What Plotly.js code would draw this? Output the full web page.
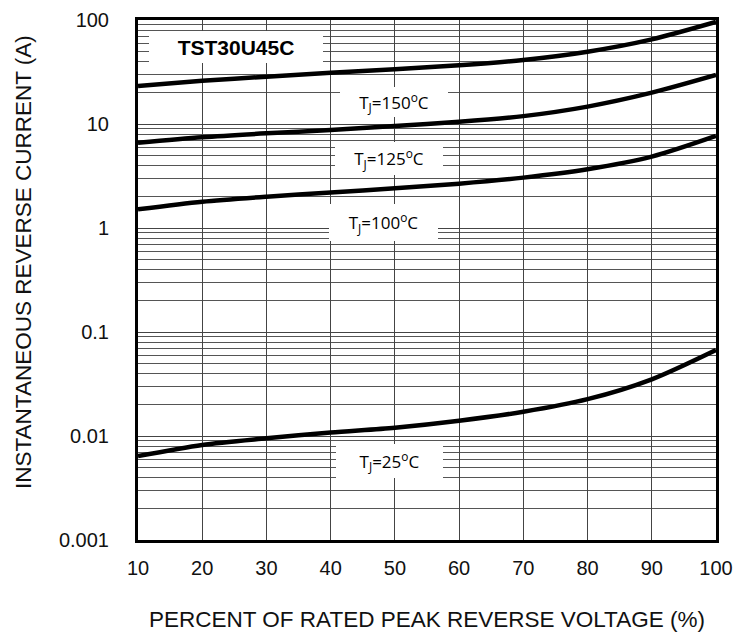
<!DOCTYPE html>
<html>
<head>
<meta charset="utf-8">
<script src="https://cdn.plot.ly/plotly-3.0.1.min.js"></script>
<style>html,body{margin:0;padding:0;background:#fff;}</style>
</head>
<body>
<div id="chart" style="width:741px;height:638px;"></div>
<script>
const voltagePct = [10, 20, 30, 40, 50, 60, 70, 80, 90, 100];
const current150 = [23.2, 26, 28.5, 31.1, 33.6, 36.7, 41.3, 49.6, 65.2, 96];
const current125 = [6.6, 7.45, 8.13, 8.75, 9.57, 10.5, 11.9, 14.7, 20, 29.6];
const current100 = [1.51, 1.79, 2.0, 2.19, 2.41, 2.67, 3.05, 3.67, 4.85, 7.67];
const current25 = [0.0064, 0.0082, 0.0095, 0.0108, 0.012, 0.014, 0.0171, 0.0226, 0.0351, 0.0671];
const seriesNames = ['T<sub>J</sub>=150<sup>o</sup>C', 'T<sub>J</sub>=125<sup>o</sup>C', 'T<sub>J</sub>=100<sup>o</sup>C', 'T<sub>J</sub>=25<sup>o</sup>C'];
const xTickVals = [10, 20, 30, 40, 50, 60, 70, 80, 90, 100];
const yTickVals = [0.001, 0.01, 0.1, 1, 10, 100];
const yTickText = ['0.001', '0.01', '0.1', '1', '10', '100'];
const partName = 'TST30U45C';

const seriesData = [current150, current125, current100, current25];
const traces = seriesData.map((ys, i) => ({
  x: voltagePct, y: ys, name: seriesNames[i], type: 'scatter', mode: 'lines',
  line: {color: '#000', width: 4.5, shape: 'spline', smoothing: 0.8},
  hoverinfo: 'skip'
}));

// plot area in pixels: left 138, right 716, top 20, bottom 540
const L = 138, R = 716, T = 20, B = 540;
const px = v => (v - L) / (R - L);
const py = v => (B - v) / (B - T);

const labelFont = {family: 'Open Sans, Noto Sans, sans-serif', size: 17, color: '#000'};
function boxLabel(text, x0, x1, y0, y1, font) {
  return {
    text: text, xref: 'paper', yref: 'paper',
    x: px((x0 + x1) / 2), y: py((y0 + y1) / 2),
    xanchor: 'center', yanchor: 'middle', showarrow: false,
    width: x1 - x0, height: y1 - y0, bgcolor: '#fff', borderpad: 0, borderwidth: 0,
    font: font, align: 'center', valign: 'middle'
  };
}

const annotations = [
  boxLabel('<b>' + partName + '</b>', 149, 323, 31, 63, {family: 'Liberation Sans, Arial, sans-serif', size: 21, color: '#000'}),
  boxLabel(seriesNames[0], 340, 448, 87, 117, labelFont),
  boxLabel(seriesNames[1], 335, 443, 142, 175, labelFont),
  boxLabel(seriesNames[2], 329, 438, 204, 241, labelFont),
  boxLabel(seriesNames[3], 336, 443, 444, 478, labelFont),
  {
    text: 'INSTANTANEOUS REVERSE CURRENT (A)', xref: 'paper', yref: 'paper',
    x: px(23), y: py(262), xanchor: 'center', yanchor: 'middle', showarrow: false,
    textangle: -90, font: {family: 'Liberation Sans, Arial, sans-serif', size: 22.5, color: '#111'}
  }
];

const layout = {
  width: 741, height: 638,
  margin: {l: L, r: 741 - R, t: T, b: 638 - B},
  paper_bgcolor: '#fff', plot_bgcolor: '#fff',
  showlegend: false,
  font: {family: 'Liberation Sans, Arial, sans-serif', color: '#111'},
  xaxis: {
    range: [10, 100], tickvals: xTickVals, ticks: '', showgrid: true,
    gridcolor: '#444', gridwidth: 1, zeroline: false,
    showline: true, mirror: true, linecolor: '#000', linewidth: 3,
    ticklabelstandoff: 8,
    tickfont: {size: 20, color: '#111'},
    title: {text: 'PERCENT OF RATED PEAK REVERSE VOLTAGE (%)', standoff: 34,
            font: {size: 22.5, color: '#111'}},
    automargin: false
  },
  yaxis: {
    type: 'log', range: [-3, 2], tickvals: yTickVals, ticktext: yTickText, ticks: '',
    showgrid: true, gridcolor: '#444', gridwidth: 1, zeroline: false,
    showline: true, mirror: true, linecolor: '#000', linewidth: 3,
    ticklabelstandoff: 22,
    tickfont: {size: 20, color: '#111'},
    minor: {dtick: 'D1', showgrid: true, gridcolor: '#555', gridwidth: 1, ticks: ''},
    automargin: false
  },
  annotations: annotations
};

Plotly.newPlot('chart', traces, layout, {displayModeBar: false, staticPlot: true});
</script>
</body>
</html>
